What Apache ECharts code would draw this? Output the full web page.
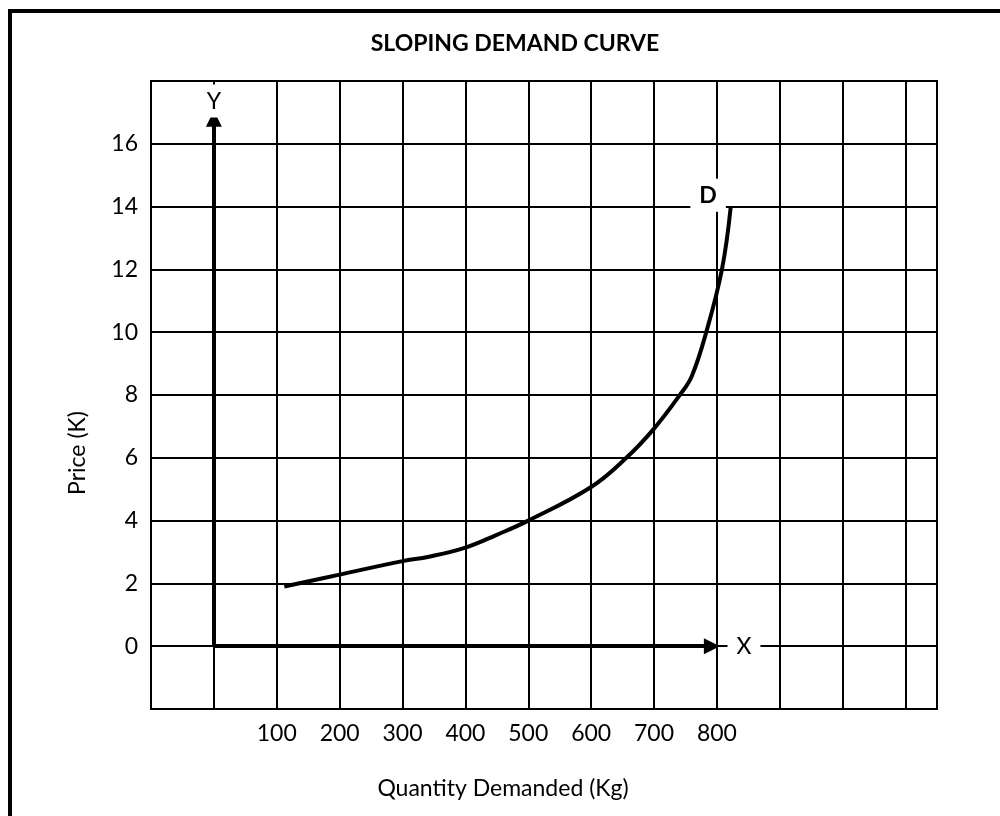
<!DOCTYPE html>
<html>
<head>
<meta charset="utf-8">
<title>Sloping Demand Curve</title>
<script src="https://cdn.jsdelivr.net/npm/echarts@6/dist/echarts.min.js"></script>
<style>
  html, body { margin: 0; padding: 0; background: #fff; overflow: hidden; }
  #frame {
    position: absolute; left: 8px; top: 9px;
    width: 1100px; height: 900px;
    border: 4px solid #000;
  }
  #chart { position: absolute; left: 0; top: 0; width: 1000px; height: 816px; }
</style>
</head>
<body>
<div id="frame"></div>
<div id="chart"></div>
<script>
  // demand curve
  var quantity = [112, 200, 300, 342, 400, 449, 500, 600, 656, 700, 741, 760, 783, 808, 822];
  var price = [1.9, 2.28, 2.71, 2.85, 3.14, 3.54, 4.0, 5.07, 6.0, 6.93, 8.0, 8.6, 10.0, 12.0, 14.0];

  var xTickLabels = [100, 200, 300, 400, 500, 600, 700, 800];
  var yTickLabels = [0, 2, 4, 6, 8, 10, 12, 14, 16];

  // the drawn X / Y axes with arrow heads
  var yArrow = [[0, 0], [0, 16.8]];
  var xArrow = [[0, 0], [792, 0]];

  // letters sitting on the grid
  var marks = [
    { name: 'Y', value: [0, 17.36] },
    { name: 'X', value: [843, 0] },
    { name: 'D', value: [786, 14.36] }
  ];

  var font = 'Lato, "Open Sans", sans-serif';

  var curve = quantity.map(function (q, i) { return [q, price[i]]; });

  var letterData = marks.map(function (m) {
    if (m.name === 'D') {
      return { name: m.name, value: m.value, label: { fontWeight: 'bold' } };
    }
    return m;
  });

  var chart = echarts.init(document.getElementById('chart'));
  chart.setOption({
    animation: false,
    textStyle: { fontFamily: font, color: '#000' },
    title: {
      text: 'SLOPING DEMAND CURVE',
      left: 510,
      textAlign: 'center',
      top: 27,
      textStyle: { fontFamily: font, fontSize: 23, fontWeight: 'bold', color: '#000' }
    },
    grid: {
      left: 151, right: 63, top: 81, bottom: 107,
      show: true, borderColor: '#000', borderWidth: 2
    },
    xAxis: {
      type: 'value',
      min: -100,
      max: 1150,
      interval: 100,
      name: 'Quantity Demanded (Kg)',
      nameLocation: 'middle',
      nameGap: 68,
      nameTextStyle: { fontFamily: font, fontSize: 23, color: '#000', padding: [0, 82, 0, 0] },
      axisLine: { show: false },
      axisTick: { show: false },
      axisLabel: {
        margin: 13,
        fontFamily: font, fontSize: 23, color: '#000',
        formatter: function (v) { return xTickLabels.indexOf(v) >= 0 ? String(v) : ''; }
      },
      splitLine: { show: true, lineStyle: { color: '#000', width: 2 } }
    },
    yAxis: {
      type: 'value',
      min: -2,
      max: 18,
      interval: 2,
      name: 'Price (K)',
      nameLocation: 'middle',
      nameGap: 62,
      nameTextStyle: { fontFamily: font, fontSize: 23, color: '#000', padding: [0, 116, 0, 0] },
      axisLine: { show: false },
      axisTick: { show: false },
      axisLabel: {
        margin: 13,
        fontFamily: font, fontSize: 23, color: '#000',
        formatter: function (v) { return yTickLabels.indexOf(v) >= 0 ? String(v) : ''; }
      },
      splitLine: { show: true, lineStyle: { color: '#000', width: 2 } }
    },
    series: [
      {
        name: 'axes',
        type: 'line',
        data: [],
        markLine: {
          silent: true,
          symbol: ['none', 'triangle'],
          symbolSize: [16, 16],
          label: { show: false },
          lineStyle: { color: '#000', width: 4, type: 'solid' },
          data: [
            [{ coord: yArrow[0] }, { coord: yArrow[1] }],
            [{ coord: xArrow[0] }, { coord: xArrow[1] }]
          ]
        }
      },
      {
        name: 'Demand',
        type: 'line',
        data: curve,
        smooth: 0.4,
        showSymbol: false,
        lineStyle: { color: '#000', width: 4 },
        z: 3
      },
      {
        name: 'letters',
        type: 'scatter',
        data: letterData,
        symbolSize: 1,
        silent: true,
        itemStyle: { color: 'transparent', opacity: 1 },
        label: {
          show: true,
          position: 'inside',
          formatter: '{b}',
          fontFamily: font,
          fontSize: 23,
          color: '#000',
          opacity: 1,
          backgroundColor: '#fff',
          padding: [5, 9]
        },
        z: 5
      }
    ]
  });
</script>
</body>
</html>
